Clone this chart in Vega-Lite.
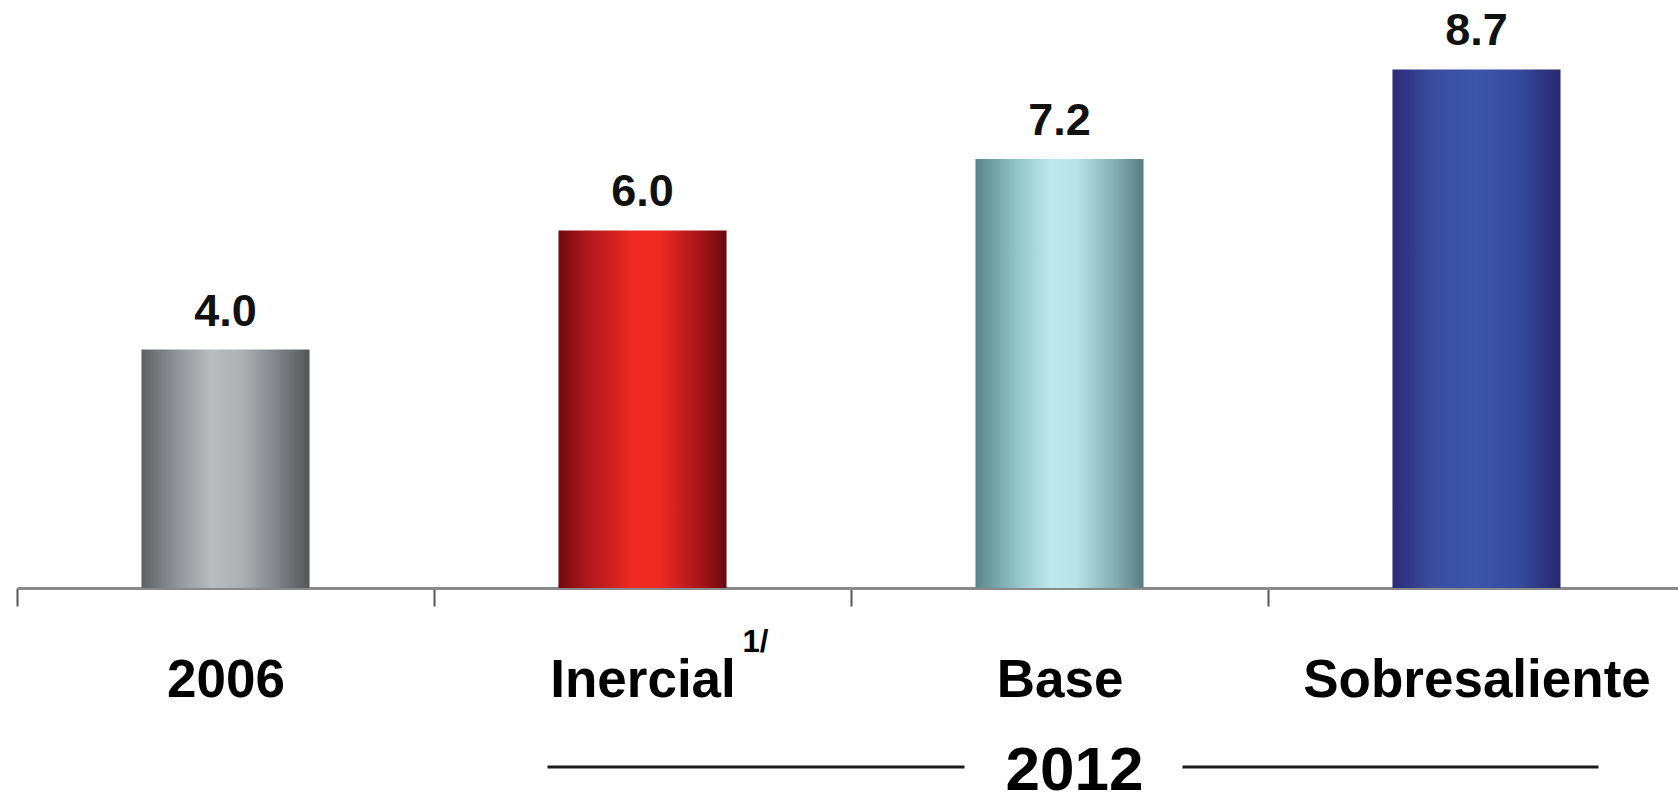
{
  "$schema": "https://vega.github.io/schema/vega-lite/v6.json",
  "width": 1661,
  "height": 588,
  "autosize": {"type": "none"},
  "padding": {"left": 17, "top": 0, "right": 0, "bottom": 209},
  "background": "white",
  "config": {"view": {"stroke": null}},
  "datasets": {
    "barras": [
      {"categoria": "2006", "valor": 4.0, "nota": ""},
      {"categoria": "Inercial", "valor": 6.0, "nota": "1/"},
      {"categoria": "Base", "valor": 7.2, "nota": ""},
      {"categoria": "Sobresaliente", "valor": 8.7, "nota": ""}
    ],
    "corchete": [
      {"categoria": "Inercial", "hasta": "Base", "lado": "izq"},
      {"categoria": "Base", "hasta": "Sobresaliente", "lado": "der"}
    ],
    "grupo": [
      {"categoria": "Base", "etiqueta": "2012"}
    ]
  },
  "encoding": {
    "x": {
      "field": "categoria",
      "type": "nominal",
      "sort": null,
      "scale": {
        "domain": ["2006", "Inercial", "Base", "Sobresaliente"],
        "range": [0, 1668],
        "paddingInner": 0,
        "paddingOuter": 0
      },
      "axis": {
        "title": null,
        "labelAngle": 0,
        "labelFont": "Liberation Sans",
        "labelFontWeight": "bold",
        "labelFontSize": 53,
        "labelColor": "#000000",
        "labelBaseline": "alphabetic",
        "labelPadding": 90,
        "labelLimit": 0,
        "labelOverlap": false,
        "labelBound": false,
        "labelFlush": false,
        "tickBand": "extent",
        "tickSize": 18,
        "tickWidth": 2,
        "tickColor": "#555555",
        "domainColor": "#8a8a8a",
        "domainWidth": 3,
        "grid": false
      }
    }
  },
  "layer": [
    {
      "data": {"name": "barras"},
      "transform": [{"filter": "datum.categoria == '2006'"}],
      "mark": {
        "type": "bar",
        "width": {"band": 0.403},
        "color": {"gradient": "linear", "x1": 0, "x2": 1, "y1": 0, "y2": 0,
          "stops": [
            {"offset": 0, "color": "#5d5f63"},
            {"offset": 0.2, "color": "#8e9195"},
            {"offset": 0.42, "color": "#b8bcbf"},
            {"offset": 0.6, "color": "#acb0b3"},
            {"offset": 0.78, "color": "#86898d"},
            {"offset": 1, "color": "#535559"}
          ]}
      },
      "encoding": {
        "y": {"field": "valor", "type": "quantitative", "scale": {"domain": [0, 9.866], "nice": false, "zero": true}, "axis": null}
      }
    },
    {
      "data": {"name": "barras"},
      "transform": [{"filter": "datum.categoria == 'Inercial'"}],
      "mark": {
        "type": "bar",
        "width": {"band": 0.403},
        "color": {"gradient": "linear", "x1": 0, "x2": 1, "y1": 0, "y2": 0,
          "stops": [
            {"offset": 0, "color": "#6e0a0e"},
            {"offset": 0.15, "color": "#a8161a"},
            {"offset": 0.45, "color": "#f02a22"},
            {"offset": 0.6, "color": "#ee2a24"},
            {"offset": 0.85, "color": "#a5141a"},
            {"offset": 1, "color": "#6a0a0e"}
          ]}
      },
      "encoding": {
        "y": {"field": "valor", "type": "quantitative", "axis": null}
      }
    },
    {
      "data": {"name": "barras"},
      "transform": [{"filter": "datum.categoria == 'Base'"}],
      "mark": {
        "type": "bar",
        "width": {"band": 0.403},
        "color": {"gradient": "linear", "x1": 0, "x2": 1, "y1": 0, "y2": 0,
          "stops": [
            {"offset": 0, "color": "#5b8488"},
            {"offset": 0.25, "color": "#93c5c9"},
            {"offset": 0.45, "color": "#c0e8ec"},
            {"offset": 0.6, "color": "#b8e2e6"},
            {"offset": 0.85, "color": "#7fa9ad"},
            {"offset": 1, "color": "#587d81"}
          ]}
      },
      "encoding": {
        "y": {"field": "valor", "type": "quantitative", "axis": null}
      }
    },
    {
      "data": {"name": "barras"},
      "transform": [{"filter": "datum.categoria == 'Sobresaliente'"}],
      "mark": {
        "type": "bar",
        "width": {"band": 0.403},
        "color": {"gradient": "linear", "x1": 0, "x2": 1, "y1": 0, "y2": 0,
          "stops": [
            {"offset": 0, "color": "#2c2a78"},
            {"offset": 0.25, "color": "#3a4ea0"},
            {"offset": 0.5, "color": "#3c55a8"},
            {"offset": 0.75, "color": "#364a9c"},
            {"offset": 1, "color": "#29276f"}
          ]}
      },
      "encoding": {
        "y": {"field": "valor", "type": "quantitative", "axis": null}
      }
    },
    {
      "data": {"name": "barras"},
      "mark": {"type": "text", "font": "Liberation Sans", "fontWeight": "bold", "fontSize": 45, "color": "#111111", "baseline": "alphabetic", "align": "center", "dy": -24},
      "encoding": {
        "y": {"field": "valor", "type": "quantitative", "axis": null},
        "text": {"field": "valor", "type": "quantitative", "format": ".1f"}
      }
    },
    {
      "data": {"name": "barras"},
      "transform": [{"filter": "datum.nota != ''"}],
      "mark": {"type": "text", "font": "Liberation Sans", "fontWeight": "bold", "fontSize": 31, "color": "#000000", "baseline": "alphabetic", "align": "left", "dx": 100, "dy": 64},
      "encoding": {
        "y": {"datum": 0, "type": "quantitative"},
        "text": {"field": "nota"}
      }
    },
    {
      "data": {"name": "corchete"},
      "transform": [{"filter": "datum.lado == 'izq'"}],
      "mark": {"type": "rule", "color": "#1a1a1a", "strokeWidth": 3, "xOffset": -95, "x2Offset": -95, "yOffset": 179},
      "encoding": {
        "x2": {"field": "hasta"},
        "y": {"datum": 0, "type": "quantitative"}
      }
    },
    {
      "data": {"name": "corchete"},
      "transform": [{"filter": "datum.lado == 'der'"}],
      "mark": {"type": "rule", "color": "#1a1a1a", "strokeWidth": 3, "xOffset": 123, "x2Offset": 122, "yOffset": 179},
      "encoding": {
        "x2": {"field": "hasta"},
        "y": {"datum": 0, "type": "quantitative"}
      }
    },
    {
      "data": {"name": "grupo"},
      "mark": {"type": "text", "font": "Liberation Sans", "fontWeight": "bold", "fontSize": 62, "color": "#000000", "baseline": "alphabetic", "align": "center", "dx": 15, "dy": 202},
      "encoding": {
        "y": {"datum": 0, "type": "quantitative"},
        "text": {"field": "etiqueta"}
      }
    }
  ]
}
